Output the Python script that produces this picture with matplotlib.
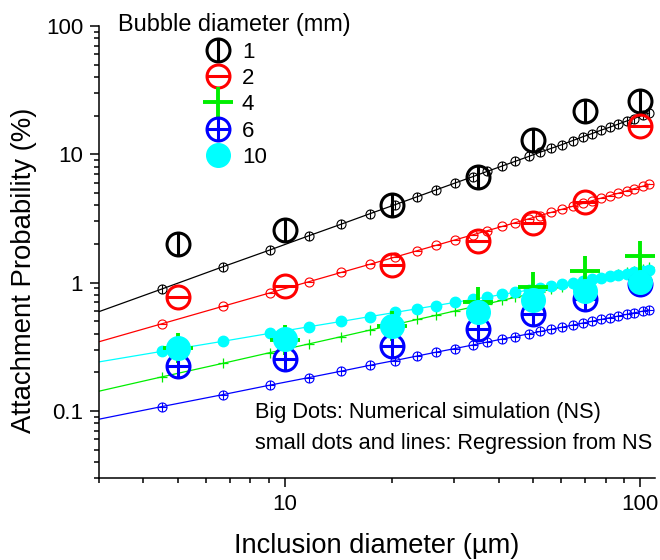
import matplotlib
matplotlib.use('Agg')
import matplotlib.pyplot as plt
from matplotlib.path import Path
from matplotlib.ticker import FixedLocator, LogLocator, NullFormatter, FuncFormatter

plt.rcParams['font.family'] = ['Liberation Sans', 'DejaVu Sans']

# Big dots: numerical simulation (NS)
ns_x = [5, 10, 20, 35, 50, 70, 100]
ns_d1 = [2.0, 2.55, 4.0, 6.7, 12.9, 21.7, 26.0]
ns_d2 = [0.77, 0.94, 1.36, 2.10, 2.91, 4.24, 16.6]
ns_d4 = [0.31, 0.355, 0.46, 0.70, 0.92, 1.24, 1.62]
ns_d6 = [0.225, 0.253, 0.322, 0.435, 0.569, 0.746, 0.977]
ns_d10 = [0.312, 0.363, 0.461, 0.586, 0.732, 0.866, 1.005]

# small dots: regression from NS
reg_x = [4.5, 6.7, 9.1, 11.7, 14.4, 17.4, 20.4, 23.6, 26.7, 30.1, 33.9, 37.1, 40.9, 44.6,
         48.6, 52.4, 56.1, 60.3, 64.7, 69.0, 73.2, 77.6, 82.4, 86.9, 91.8, 96.2, 101.8, 106.2]
reg_d1 = [0.89, 1.33, 1.80, 2.32, 2.85, 3.45, 4.04, 4.67, 5.29, 5.96, 6.71, 7.35, 8.10, 8.83,
          9.62, 10.4, 11.1, 11.9, 12.8, 13.7, 14.5, 15.4, 16.3, 17.2, 18.2, 19.0, 20.2, 21.0]
reg_d2 = [0.477, 0.654, 0.833, 1.017, 1.199, 1.392, 1.579, 1.773, 1.954, 2.149, 2.361, 2.536,
          2.738, 2.934, 3.141, 3.333, 3.519, 3.727, 3.940, 4.145, 4.346, 4.550, 4.771, 4.976,
          5.197, 5.394, 5.640, 5.834]
reg_d4 = [0.184, 0.235, 0.285, 0.333, 0.379, 0.427, 0.471, 0.516, 0.557, 0.601, 0.647, 0.684,
          0.727, 0.768, 0.810, 0.849, 0.886, 0.927, 0.969, 1.008, 1.046, 1.085, 1.126, 1.164,
          1.205, 1.241, 1.285, 1.320]
reg_d6 = [0.108, 0.134, 0.159, 0.182, 0.204, 0.227, 0.247, 0.268, 0.287, 0.306, 0.327, 0.344,
          0.363, 0.380, 0.399, 0.416, 0.432, 0.449, 0.467, 0.484, 0.500, 0.516, 0.533, 0.549,
          0.566, 0.581, 0.599, 0.613]
reg_d10 = [0.291, 0.349, 0.403, 0.453, 0.498, 0.544, 0.585, 0.626, 0.663, 0.701, 0.741, 0.772,
           0.808, 0.841, 0.875, 0.906, 0.935, 0.967, 0.999, 1.029, 1.058, 1.086, 1.117, 1.145,
           1.175, 1.200, 1.232, 1.257]

# regression lines start at the left edge
line_x0 = 3
line_y0 = {'1': 0.594, '2': 0.346, '4': 0.1425, '6': 0.0862, '10': 0.241}

labels = ['1', '2', '4', '6', '10']
colors = ['black', 'red', '#00ee00', 'blue', 'cyan']
ns_all = [ns_d1, ns_d2, ns_d4, ns_d6, ns_d10]
reg_all = [reg_d1, reg_d2, reg_d4, reg_d6, reg_d10]

# маркеры: круг с вертикальной / горизонтальной чертой / крестом
circ = Path.unit_circle()
vbar = Path([[0, -1], [0, 1]], [Path.MOVETO, Path.LINETO])
hbar = Path([[-1, 0], [1, 0]], [Path.MOVETO, Path.LINETO])
m_vert = Path.make_compound_path(circ, vbar)
m_horz = Path.make_compound_path(circ, hbar)
m_plus = Path.make_compound_path(circ, vbar, hbar)
markers = [m_vert, m_horz, '+', m_plus, 'o']

fig = plt.figure(figsize=(6.6, 5.6), dpi=100)
ax = fig.add_axes([0.15, 0.1464, 0.842, 0.8072])
ax.set_xscale('log')
ax.set_yscale('log')

for lab, c, mk, ns, reg in zip(labels, colors, markers, ns_all, reg_all):
    # regression: line + small dots
    ax.plot([line_x0] + reg_x, [line_y0[lab]] + reg, '-', color=c, lw=0.9, zorder=2)
    if mk == 'o':
        ax.plot(reg_x, reg, ls='none', marker='o', ms=7.5, color=c, mec=c, zorder=3)
    elif mk == '+':
        ax.plot(reg_x, reg, ls='none', marker='+', ms=6.5, color=c, mew=0.9, zorder=3)
    else:
        ax.plot(reg_x, reg, ls='none', marker=mk, ms=6.5, color=c, mfc='none', mew=0.8, zorder=3)

for lab, c, mk, ns in zip(labels, colors, markers, ns_all):
    # NS: big dots
    if mk == 'o':
        ax.plot(ns_x, ns, ls='none', marker='o', ms=17, color=c, mec=c, label=lab, zorder=5)
    elif mk == '+':
        ax.plot(ns_x, ns, ls='none', marker='+', ms=21, color=c, mew=2.8, label=lab, zorder=4)
    else:
        ax.plot(ns_x, ns, ls='none', marker=mk, ms=16.5, color=c, mfc='none', mew=2.2,
                label=lab, zorder=4)

ax.set_xlim(3, 110)
ax.set_ylim(0.03, 100)

ax.xaxis.set_major_locator(FixedLocator([10, 100]))
ax.yaxis.set_major_locator(FixedLocator([0.1, 1, 10, 100]))
ax.xaxis.set_minor_locator(LogLocator(base=10, subs=[2, 3, 4, 5, 6, 7, 8, 9], numticks=20))
ax.yaxis.set_minor_locator(LogLocator(base=10, subs=[2, 3, 4, 5, 6, 7, 8, 9], numticks=20))
fmt = FuncFormatter(lambda v, p: '%g' % v)
ax.xaxis.set_major_formatter(fmt)
ax.yaxis.set_major_formatter(fmt)
ax.xaxis.set_minor_formatter(NullFormatter())
ax.yaxis.set_minor_formatter(NullFormatter())
ax.tick_params(which='major', length=6.5, width=1.1, labelsize=16, pad=5)
ax.tick_params(which='minor', length=3.5, width=1.1)

for s in ['top', 'right']:
    ax.spines[s].set_visible(False)
for s in ['left', 'bottom']:
    ax.spines[s].set_linewidth(1.1)

ax.set_xlabel('Inclusion diameter (\u00b5m)', fontsize=19.6, labelpad=13)
ax.set_ylabel('Attachment Probability (%)', fontsize=19.8, labelpad=6)
ax.yaxis.label.set_y(0.46)

ax.text(0.281, 0.144, 'Big Dots: Numerical simulation (NS)', transform=ax.transAxes,
        fontsize=15.7, va='center', ha='left')
ax.text(0.281, 0.077, 'small dots and lines: Regression from NS', transform=ax.transAxes,
        fontsize=15.7, va='center', ha='left')

leg = ax.legend(loc='upper left', bbox_to_anchor=(0.019, 1.048), frameon=False, fontsize=16,
                title='Bubble diameter (mm)', title_fontsize=16.9, numpoints=1,
                handlelength=1.4, handletextpad=0.35, labelspacing=0.24, borderaxespad=0)

plt.savefig('out.png', dpi=100)
